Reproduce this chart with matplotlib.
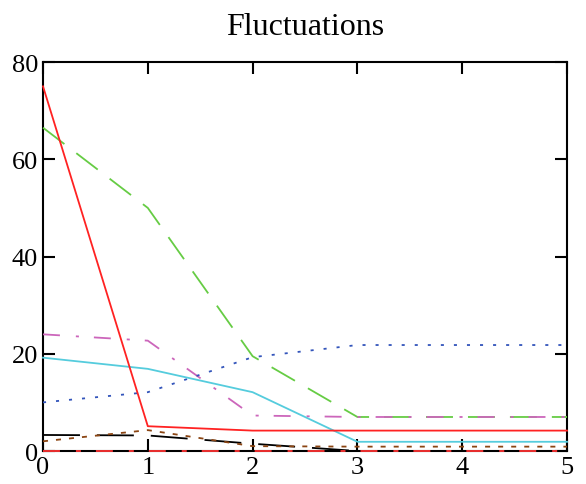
import matplotlib
matplotlib.use("Agg")
import matplotlib.pyplot as plt

# sample points along x
x = [0, 1, 2, 3, 4, 5]

red_solid = [75, 5.1, 4.2, 4.2, 4.2, 4.2]
green_dash = [66.5, 50, 19.5, 7, 7, 7]
magenta_dashdot = [24, 22.7, 7.3, 7, 7, 7]
blue_dot = [10, 12.1, 19.3, 21.8, 21.8, 21.8]
cyan_solid = [19.2, 16.9, 12.1, 1.9, 1.9, 1.9]
black_dash = [3.3, 3.2, 1.5, 0, 0, 0]
brown_dot = [2.0, 4.3, 1.0, 0.9, 0.9, 0.9]
red_dashdot = [0, 0, 0, 0, 0, 0]

plt.rcParams['lines.scale_dashes'] = False
plt.rcParams['font.family'] = ['Liberation Serif', 'DejaVu Serif']

fig = plt.figure(figsize=(5.86, 4.85), dpi=100)
ax = fig.add_axes([0.0734, 0.068, 0.8942, 0.802])

lw = 1.3
ax.plot(x, red_solid, color='#ff2222', lw=lw, clip_on=False, zorder=5)
ax.plot(x, green_dash, color='#66cc44', lw=lw, dashes=(19.4, 10.8), clip_on=False, zorder=4)
ax.plot(x, magenta_dashdot, color='#cc66bb', lw=lw, dashes=(12.2, 11.5, 2.2, 10.8), clip_on=False, zorder=4)
ax.plot(x, blue_dot, color='#3355bb', lw=lw, dashes=(2.2, 7.2), clip_on=False, zorder=4)
ax.plot(x, cyan_solid, color='#55ccdd', lw=lw, clip_on=False, zorder=4)
ax.plot(x, black_dash, color='black', lw=lw, dashes=(26.6, 12.2), clip_on=False, zorder=4)
ax.plot(x, brown_dot, color='#8b4513', lw=lw, dashes=(3.6, 5.8), clip_on=False, zorder=4)
ax.plot(x, red_dashdot, color='#ff3333', lw=lw, dashes=(12.2, 11.5, 3.6, 10.8), clip_on=False, zorder=6)

ax.set_xlim(0, 5)
ax.set_ylim(0, 80)
ax.set_xticks([0, 1, 2, 3, 4, 5])
ax.set_yticks([0, 20, 40, 60, 80])
ax.tick_params(direction='in', length=8.5, width=1.5, top=True, right=True,
               labelsize=19, pad=3.5)
for s in ax.spines.values():
    s.set_linewidth(1.5)

ax.set_title('Fluctuations', fontsize=23, pad=20)

fig.savefig('out.png', dpi=100)
